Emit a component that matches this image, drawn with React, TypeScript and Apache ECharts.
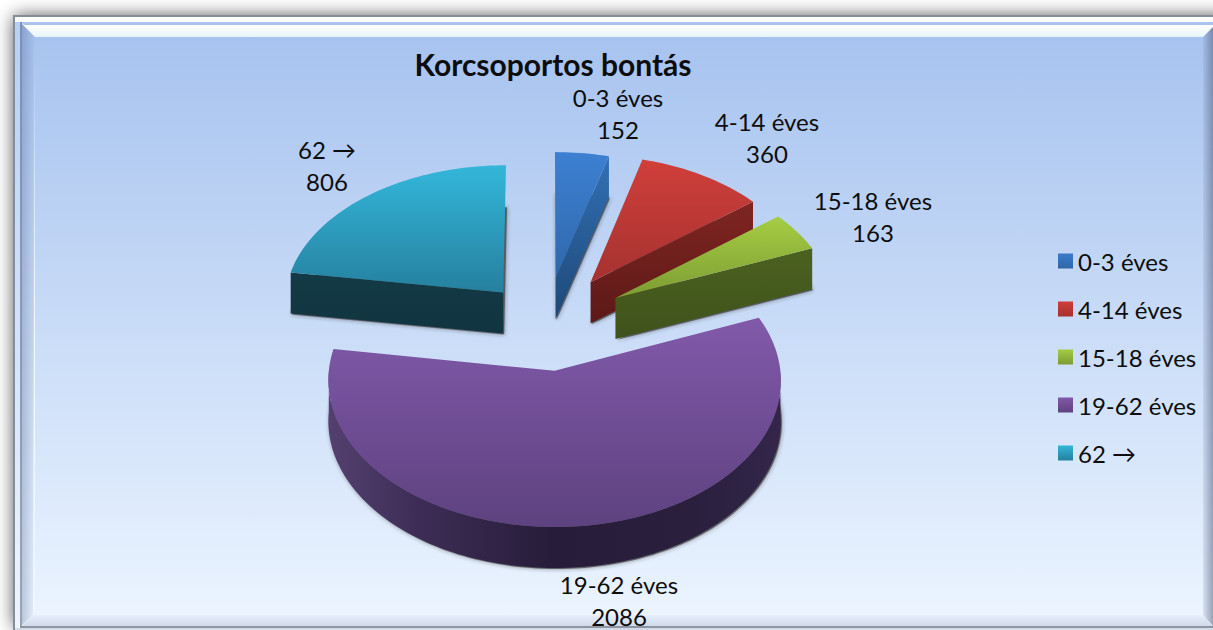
import React, { useEffect, useRef } from "react";
import * as echarts from "echarts";

const titleText = "Korcsoportos bontás";
const categories = ["0-3 éves", "4-14 éves", "15-18 éves", "19-62 éves", "62 →"];
const values = [152, 360, 163, 2086, 806];

// palette per slice: top surface [light, dark], wall [light, dark]
const topColors = [["#3d80d2", "#2f68ab"], ["#d03f3a", "#a53230"], ["#a6cd44", "#7c9c33"], ["#8159aa", "#5e427f"], ["#33b7da", "#26809f"]];
const wallColors = [["#3370b4", "#1d4877"], ["#7f2522", "#5c1917"], ["#4b611f", "#3f521c"], ["#4a3763", "#2a1e3d"], ["#133a46", "#113540"]];
const legendColors = [["#3a7bc8", "#2e66a8"], ["#cf3d39", "#a8322f"], ["#a4cb45", "#7d9b33"], ["#8059a8", "#5f4280"], ["#33b6d8", "#26809f"]];
// label centres (page layout, px)
const labelAnchors = [[618, 113], [767, 137], [873, 216], [619, 600], [327, 165]];
// small per-slice corrections of the explosion (px)
const sliceNudge = [[-3, -1], [2, -4], [4, -3], [-3, 0], [1, 3]];

// projection of the exploded 3D pie
const OX = 549, OY = 324, A = 221, B = 139.8, K = 0.0645, EXPLODE = 0.33, DEPTH = 41;
const FONT = 'Lato, "Noto Sans", "DejaVu Sans", sans-serif';

const total = values.reduce((a, b) => a + b, 0);
const rad = (d: number) => (d * Math.PI) / 180;
const spans = (() => {
  let acc = 0;
  return values.map((v) => {
    const s = (acc / total) * 360;
    acc += v;
    return [s, (acc / total) * 360];
  });
})();

const vGrad = (a: string, b: string) => new echarts.graphic.LinearGradient(0, 0, 0, 1, [{ offset: 0, color: a }, { offset: 1, color: b }]);
const hGrad = (stops: [number, string][]) => new echarts.graphic.LinearGradient(0, 0, 1, 0, stops.map(([offset, color]) => ({ offset, color })));
const down = (p: number[][]) => p.map(([x, y]) => [x, y + DEPTH]);

const sliceRender = (i: number) => () => {
  const [a0, a1] = spans[i];
  const mid = (a0 + a1) / 2;
  const ex = EXPLODE * Math.sin(rad(mid));
  const ez = EXPLODE * Math.cos(rad(mid));
  const project = (X: number, Z: number) => {
    const s = 1 / (1 + K * Z);
    return [OX + sliceNudge[i][0] + A * X * s, OY + sliceNudge[i][1] - B * Z * s];
  };
  const rim = (t: number) => project(ex + Math.sin(rad(t)), ez + Math.cos(rad(t)));
  const tip = project(ex, ez);
  const arc: number[][] = [];
  const n = Math.max(8, Math.ceil((a1 - a0) / 1.5));
  for (let k = 0; k <= n; k++) arc.push(rim(a0 + ((a1 - a0) * k) / n));
  const top = [tip, ...arc];
  const children: any[] = [
    {
      type: "polygon",
      silent: true,
      shape: { points: down(top).map(([x, y]) => [x + 1, y + 1]) },
      style: { fill: "rgba(70,70,75,0.75)", shadowBlur: 4, shadowColor: "rgba(40,40,40,0.7)" },
    },
  ];
  const wall = (p: number[][], fill: any) => children.push({ type: "polygon", silent: true, shape: { points: p }, style: { fill } });
  const w = wallColors[i];
  if (Math.cos(rad(a0 - 90)) < -1e-6) {
    const e = rim(a0);
    wall([tip, e, ...down([e, tip])], vGrad(w[0], w[1]));
  }
  if (Math.cos(rad(a1 + 90)) < -1e-6) {
    const e = rim(a1);
    wall([tip, e, ...down([e, tip])], vGrad(w[0], w[1]));
  }
  const lo = Math.max(a0, 90), hi = Math.min(a1, 270);
  if (hi > lo) {
    const edge: number[][] = [];
    for (let t = lo; t <= hi; t += 1.5) edge.push(rim(t));
    edge.push(rim(hi));
    wall(
      [...edge, ...down(edge).reverse()],
      hGrad([[0, "#54406f"], [0.2, "#3d2d56"], [0.5, "#271c39"], [0.8, "#2a1f3d"], [1, "#33264a"]])
    );
  }
  children.push({ type: "polygon", silent: true, shape: { points: top }, style: { fill: vGrad(topColors[i][0], topColors[i][1]) } });
  children.push({
    type: "text",
    silent: true,
    style: {
      text: `${categories[i]}\n${values[i]}`,
      x: labelAnchors[i][0],
      y: labelAnchors[i][1],
      align: "center",
      verticalAlign: "middle",
      font: `24px ${FONT}`,
      lineHeight: 32,
      fill: "#0d0d0d",
    },
  });
  return { type: "group", children };
};

const poly = (points: number[][], fill: any) => ({ type: "polygon", silent: true, shape: { points }, style: { fill } });
const frame: any[] = [
  { type: "rect", silent: true, shape: { x: 14, y: 16, width: 1300, height: 611 }, style: { fill: "#e8f0fb", shadowBlur: 18, shadowColor: "rgba(0,0,0,0.7)" } },
  { type: "rect", silent: true, shape: { x: 14, y: 16, width: 1300, height: 620 }, style: { fill: vGrad("#fbfdff", "#eef5ff") } },
  { type: "rect", silent: true, shape: { x: 15, y: 22, width: 7, height: 605 }, style: { fill: vGrad("#b8d0f3", "#eef5ff") } },
  { type: "rect", silent: true, shape: { x: 35, y: 37, width: 1168, height: 578 }, style: { fill: vGrad("#a7c3ef", "#ebf4ff") } },
  poly([[21, 22], [1213, 22], [1213, 25], [24, 25]], "#a8c3ee"),
  poly([[24, 25], [1213, 25], [1203, 37], [35, 37]], vGrad("#ffffff", "#e6f4ff")),
  poly([[21, 23], [35, 37], [33, 615], [21, 626]], vGrad("#a6c0ec", "#e8f1fe")),
  poly([[21, 23], [35, 37], [33, 615], [21, 626]], hGrad([[0, "rgba(60,80,120,0.28)"], [1, "rgba(60,80,120,0)"]])),
  poly([[1203, 37], [1213, 27], [1213, 626], [1203, 615]], vGrad("#a0bae6", "#d8e2f2")),
  poly([[1203, 37], [1213, 27], [1213, 626], [1203, 615]], hGrad([[0, "rgba(60,70,95,0)"], [1, "rgba(60,70,95,0.4)"]])),
  poly([[22, 626], [33, 615], [1203, 615], [1213, 626]], vGrad("#e8effb", "#d0dae9")),
  { type: "rect", silent: true, shape: { x: 20, y: 22, width: 2, height: 605 }, style: { fill: vGrad("#7892be", "#98a3b4") } },
  { type: "rect", silent: true, shape: { x: 20, y: 626, width: 1193, height: 2 }, style: { fill: "#8d95a3" } },
  { type: "rect", silent: true, shape: { x: 13, y: 15, width: 1200, height: 2 }, style: { fill: "#858c96" } },
  { type: "rect", silent: true, shape: { x: 13, y: 15, width: 2, height: 615 }, style: { fill: "#868d98" } },
  { type: "rect", silent: true, shape: { x: 15, y: 628, width: 1198, height: 2 }, style: { fill: "#d3dbe7" } },
];

export default function App() {
  const ref = useRef<HTMLDivElement>(null);
  useEffect(() => {
    const chart = echarts.init(ref.current!, undefined, { renderer: "svg" });
    chart.setOption({
      animation: false,
      backgroundColor: "#ffffff",
      graphic: { elements: frame.map((e) => ({ ...e, z: -10 })) },
      title: {
        text: titleText,
        left: 548,
        top: 44,
        textAlign: "center",
        textStyle: { fontFamily: FONT, fontSize: 30, fontWeight: "bold", color: "#0d0d0d" },
      },
      legend: {
        orient: "vertical",
        left: 1058,
        top: 249,
        padding: 0,
        itemWidth: 15,
        itemHeight: 15,
        itemGap: 24,
        icon: "rect",
        textStyle: { fontFamily: FONT, fontSize: 24, color: "#0d0d0d" },
        data: categories.map((name, i) => ({ name, itemStyle: { color: vGrad(legendColors[i][0], legendColors[i][1]) } })),
      },
      series: categories.map((name, i) => ({
        type: "custom",
        name,
        coordinateSystem: "none",
        silent: true,
        clip: false,
        itemStyle: { color: legendColors[i][0] },
        renderItem: sliceRender(i),
        data: [values[i]],
      })),
    });
    return () => chart.dispose();
  }, []);
  return <div ref={ref} style={{ position: "fixed", left: 0, top: 0, width: 1213, height: 630 }} />;
}
